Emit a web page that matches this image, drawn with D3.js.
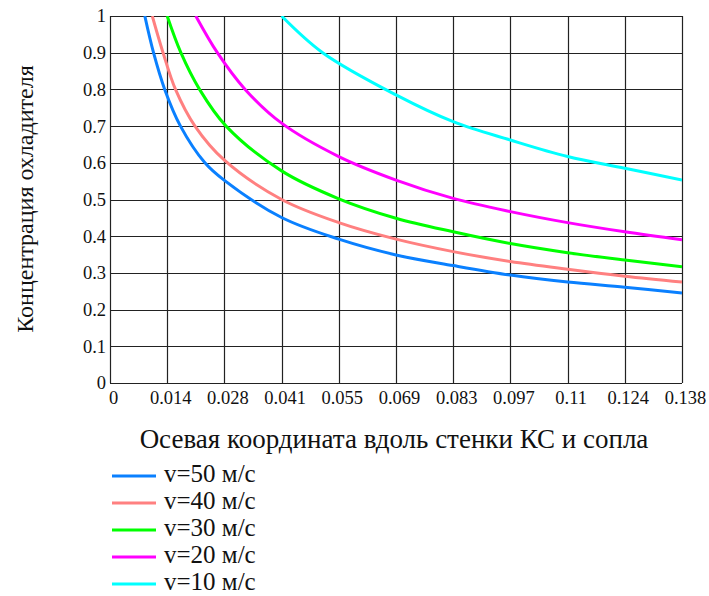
<!DOCTYPE html>
<html lang="ru">
<head>
<meta charset="UTF-8">
<title>Концентрация охладителя</title>
<script src="https://d3js.org/d3.v7.min.js"></script>
<style>
  body { margin: 0; background: #fff; }
  text { font-family: "Liberation Serif", "Times New Roman", serif; fill: #111; }
</style>
</head>
<body>
<svg width="709" height="596"></svg>
<script>
// values
const xTicks = [0, 0.0138, 0.0276, 0.0414, 0.0552, 0.069, 0.0828, 0.0966, 0.1104, 0.1242, 0.138];
const xTickLabels = ["0", "0.014", "0.028", "0.041", "0.055", "0.069", "0.083", "0.097", "0.11", "0.124", "0.138"];
const yTicks = [0, 0.1, 0.2, 0.3, 0.4, 0.5, 0.6, 0.7, 0.8, 0.9, 1];
const yTickLabels = ["0", "0.1", "0.2", "0.3", "0.4", "0.5", "0.6", "0.7", "0.8", "0.9", "1"];

const seriesNames = ["v=50 м/с", "v=40 м/с", "v=30 м/с", "v=20 м/с", "v=10 м/с"];

const x50 = [0.0084, 0.0105, 0.0132, 0.0170, 0.0229, 0.0276, 0.0414, 0.0552, 0.069, 0.0828, 0.0966, 0.1104, 0.1242, 0.138];
const c50 = [1.0, 0.9, 0.8, 0.7, 0.6, 0.552, 0.451, 0.392, 0.349, 0.320, 0.294, 0.275, 0.261, 0.245];

const x40 = [0.0102, 0.0128, 0.0158, 0.0205, 0.0276, 0.0414, 0.0552, 0.069, 0.0828, 0.0966, 0.1104, 0.1242, 0.138];
const c40 = [1.0, 0.9, 0.8, 0.7, 0.607, 0.5, 0.437, 0.392, 0.358, 0.331, 0.310, 0.291, 0.275];

const x30 = [0.0138, 0.0171, 0.0216, 0.0280, 0.0414, 0.0552, 0.069, 0.0828, 0.0966, 0.1104, 0.1242, 0.138];
const c30 = [1.0, 0.9, 0.8, 0.7, 0.578, 0.502, 0.449, 0.412, 0.380, 0.355, 0.335, 0.317];

const x20 = [0.0207, 0.0259, 0.0326, 0.0414, 0.0552, 0.069, 0.0828, 0.0966, 0.1104, 0.1242, 0.138];
const c20 = [1.0, 0.9, 0.8, 0.708, 0.617, 0.553, 0.503, 0.467, 0.437, 0.412, 0.390];

const x10 = [0.0414, 0.0513, 0.069, 0.0828, 0.0966, 0.1104, 0.1242, 0.138];
const c10 = [1.0, 0.9, 0.785, 0.712, 0.662, 0.617, 0.585, 0.553];

const colors = ["#0a80ff", "#ff8080", "#00ff00", "#ff00ff", "#00ffff"];

const series = [[x50, c50], [x40, c40], [x30, c30], [x20, c20], [x10, c10]]
  .map(([xs, cs], i) => ({ name: seriesNames[i], color: colors[i], points: xs.map((x, j) => [x, cs[j]]) }));

const svg = d3.select("svg");
const margin = { top: 16, right: 27, bottom: 213, left: 110 };
const W = +svg.attr("width"), H = +svg.attr("height");

const x = d3.scaleLinear().domain([0, 0.138]).range([margin.left, W - margin.right]);
const y = d3.scaleLinear().domain([0, 1]).range([H - margin.bottom, margin.top]);

// grid
svg.append("g")
  .selectAll("line")
  .data(xTicks)
  .join("line")
  .attr("x1", d => Math.round(x(d)) + 0.5).attr("x2", d => Math.round(x(d)) + 0.5)
  .attr("y1", y(1)).attr("y2", y(0))
  .attr("stroke", "#222").attr("stroke-width", 1.2);

svg.append("g")
  .selectAll("line")
  .data(yTicks)
  .join("line")
  .attr("y1", d => Math.round(y(d)) + 0.5).attr("y2", d => Math.round(y(d)) + 0.5)
  .attr("x1", x(0)).attr("x2", x(0.138))
  .attr("stroke", "#222").attr("stroke-width", 1.2);

// tick labels
const xAxis = svg.append("g")
  .attr("transform", `translate(0,${y(0)})`)
  .call(d3.axisBottom(x).tickValues(xTicks).tickSize(0).tickPadding(8)
    .tickFormat((d, i) => xTickLabels[i]));
xAxis.select(".domain").remove();
xAxis.selectAll("text").attr("font-size", 18.5).attr("dx", 3);

const yAxis = svg.append("g")
  .attr("transform", `translate(${x(0)},0)`)
  .call(d3.axisLeft(y).tickValues(yTicks).tickSize(0).tickPadding(4)
    .tickFormat((d, i) => yTickLabels[i]));
yAxis.select(".domain").remove();
yAxis.selectAll("text").attr("font-size", 18.5);

// curves
svg.append("defs").append("clipPath").attr("id", "plot")
  .append("rect").attr("x", x(0)).attr("y", y(1)).attr("width", x(0.138) - x(0)).attr("height", y(0) - y(1));

const line = d3.line().x(d => x(d[0])).y(d => y(d[1])).curve(d3.curveCatmullRom.alpha(0.5));

svg.append("g").attr("clip-path", "url(#plot)")
  .selectAll("path")
  .data(series)
  .join("path")
  .attr("d", d => line(d.points))
  .attr("fill", "none")
  .attr("stroke", d => d.color)
  .attr("stroke-width", 3);

// titles
svg.append("text")
  .attr("x", 394).attr("y", 448)
  .attr("text-anchor", "middle")
  .attr("font-size", 27)
  .text("Осевая координата вдоль стенки КС и сопла");

svg.append("text")
  .attr("transform", "translate(33,199) rotate(-90)")
  .attr("text-anchor", "middle")
  .attr("font-size", 24)
  .text("Концентрация охладителя");

// legend
const legend = svg.append("g")
  .selectAll("g")
  .data(series)
  .join("g")
  .attr("transform", (d, i) => `translate(112,${476 + i * 27})`);

legend.append("line")
  .attr("x1", 0).attr("x2", 44)
  .attr("stroke", d => d.color).attr("stroke-width", 3);

legend.append("text")
  .attr("x", 52).attr("dy", "0.25em")
  .attr("font-size", 25)
  .text(d => d.name);
</script>
</body>
</html>
